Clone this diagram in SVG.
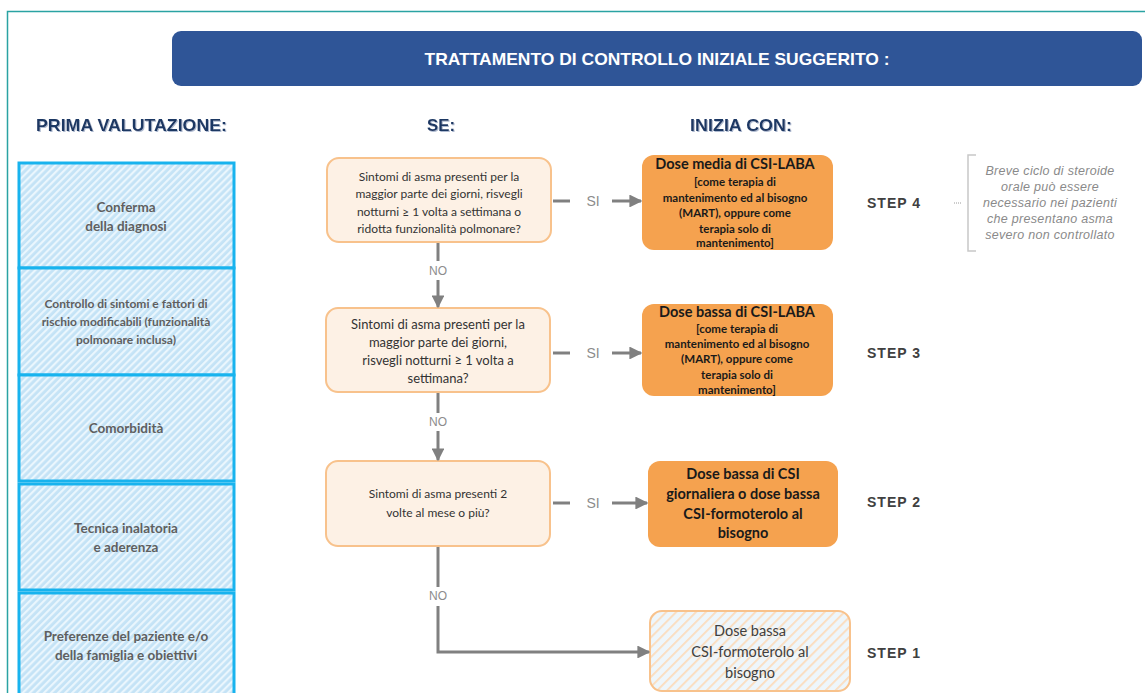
<svg xmlns="http://www.w3.org/2000/svg" width="1145" height="693" viewBox="0 0 1145 693">
<defs>
<pattern id="hatchBlue" width="5" height="5" patternUnits="userSpaceOnUse" patternTransform="rotate(45)">
<rect width="5" height="5" fill="#c4e3f6"/>
<rect width="2.2" height="5" fill="#eaf6fd"/>
</pattern>
<pattern id="hatchOrange" width="7" height="7" patternUnits="userSpaceOnUse" patternTransform="rotate(45)">
<rect width="7" height="7" fill="#eef6fb"/>
<rect width="1.8" height="7" fill="#fbdcbd"/>
</pattern>
<marker id="arr" viewBox="0 0 10 10" refX="9" refY="5" markerWidth="4.3" markerHeight="4.3" orient="auto" markerUnits="strokeWidth">
<path d="M0,0 L10,5 L0,10 z" fill="#808080"/>
</marker>
<filter id="sh" x="-5%" y="-20%" width="110%" height="150%">
<feDropShadow dx="1" dy="1" stdDeviation="0.6" flood-color="#9aa9c4" flood-opacity="0.8"/>
</filter>
</defs>
<style>
.hdr{font-family:"Liberation Sans",Arial,sans-serif;font-weight:bold;fill:#1f3864;font-size:17px}
.lbox{fill:url(#hatchBlue);stroke:#18b3ee;stroke-width:3}
.lt{font-family:Lato,"Liberation Sans",sans-serif;font-weight:bold;fill:#5f5f5f;font-size:13.5px;text-anchor:middle}
.q{fill:#fdf1e5;stroke:#f8c28c;stroke-width:2}
.qt{font-family:Lato,"Liberation Sans",sans-serif;fill:#333333;font-size:12px;text-anchor:middle}
.a{fill:#f5a24f}
.at{font-family:Lato,"Liberation Sans",sans-serif;font-weight:bold;fill:#1a1a1a;font-size:11.5px;text-anchor:middle}
.att{font-family:Lato,"Liberation Sans",sans-serif;font-weight:bold;fill:#1a1a1a;font-size:14.5px;text-anchor:middle}
.a1t{font-family:Lato,"Liberation Sans",sans-serif;fill:#404040;font-size:14.5px;text-anchor:middle}
.ln{fill:none;stroke:#808080;stroke-width:3}
.lbl{font-family:"Liberation Sans",Arial,sans-serif;fill:#8c8c8c;font-size:14px;text-anchor:middle}
.nolbl{font-family:"Liberation Sans",Arial,sans-serif;fill:#8c8c8c;font-size:12px;text-anchor:middle}
.step{font-family:"Liberation Sans",Arial,sans-serif;font-weight:bold;fill:#404040;font-size:14px;letter-spacing:1px}
.note{font-family:"Liberation Sans",Arial,sans-serif;font-style:italic;fill:#8a8a8a;font-size:12.5px;text-anchor:middle;letter-spacing:0.3px}
</style>
<rect width="1145" height="693" fill="#ffffff"/>
<path d="M7.5,693 L7.5,11.5 L1145,11.5" fill="none" stroke="#2aa3a3" stroke-width="1.5"/>

<g id="title">
<rect x="172" y="31" width="970" height="55" rx="9" fill="#2f5597"/>
<text x="657" y="65" font-family="Liberation Sans,Arial,sans-serif" font-weight="bold" font-size="17" fill="#ffffff" text-anchor="middle" textLength="465" lengthAdjust="spacingAndGlyphs">TRATTAMENTO DI CONTROLLO INIZIALE SUGGERITO :</text>
</g>

<g id="headers" filter="url(#sh)">
<text class="hdr" x="36" y="131" textLength="191" lengthAdjust="spacingAndGlyphs">PRIMA VALUTAZIONE:</text>
<text class="hdr" x="427" y="131" textLength="28" lengthAdjust="spacingAndGlyphs">SE:</text>
<text class="hdr" x="690" y="131" textLength="102" lengthAdjust="spacingAndGlyphs">INIZIA CON:</text>
</g>

<g id="val1"><rect class="lbox" x="19" y="163" width="215" height="105"/>
<text class="lt" x="126" y="212">Conferma</text><text class="lt" x="126" y="231">della diagnosi</text></g>
<g id="val2"><rect class="lbox" x="19" y="268" width="215" height="107"/>
<text class="lt" x="126" y="308" font-size="12" style="font-size:12px">Controllo di sintomi e fattori di</text>
<text class="lt" x="126" y="326" style="font-size:12px">rischio modificabili (funzionalità</text>
<text class="lt" x="126" y="344" style="font-size:12px">polmonare inclusa)</text></g>
<g id="val3"><rect class="lbox" x="19" y="375" width="215" height="106"/>
<text class="lt" x="126" y="433">Comorbidità</text></g>
<g id="val4"><rect class="lbox" x="19" y="484" width="215" height="106"/>
<text class="lt" x="126" y="533">Tecnica inalatoria</text><text class="lt" x="126" y="552">e aderenza</text></g>
<g id="val5"><rect class="lbox" x="19" y="593" width="215" height="110"/>
<text class="lt" x="126" y="641">Preferenze del paziente e/o</text><text class="lt" x="126" y="660">della famiglia e obiettivi</text></g>

<g id="q1"><rect class="q" x="327" y="158" width="224" height="84" rx="12"/>
<text class="qt" x="439" y="181">Sintomi di asma presenti per la</text>
<text class="qt" x="439" y="198">maggior parte dei giorni,  risvegli</text>
<text class="qt" x="439" y="216">notturni ≥ 1 volta a settimana o</text>
<text class="qt" x="439" y="233">ridotta funzionalità  polmonare?</text></g>

<g id="q2"><rect class="q" x="326" y="308" width="224" height="84" rx="12"/>
<text class="qt" x="438" y="329" style="font-size:13px">Sintomi di asma presenti per la</text>
<text class="qt" x="438" y="347" style="font-size:13px">maggior parte dei giorni,</text>
<text class="qt" x="438" y="365" style="font-size:13px">risvegli notturni ≥ 1 volta a</text>
<text class="qt" x="438" y="383" style="font-size:13px">settimana?</text></g>

<g id="q3"><rect class="q" x="326" y="461" width="224" height="85" rx="12"/>
<text class="qt" x="438" y="498">Sintomi di asma presenti 2</text>
<text class="qt" x="438" y="517">volte al mese o più?</text></g>

<g id="a4"><rect class="a" x="642" y="155" width="191" height="95" rx="12"/>
<text class="att" x="735" y="169">Dose media di CSI-LABA</text>
<text class="at" x="735" y="186">[come terapia di</text>
<text class="at" x="735" y="202">mantenimento ed al bisogno</text>
<text class="at" x="735" y="217">(MART), oppure come</text>
<text class="at" x="735" y="233">terapia solo di</text>
<text class="at" x="735" y="247">mantenimento]</text></g>

<g id="a3"><rect class="a" x="642" y="304" width="191" height="92" rx="12"/>
<text class="att" x="737" y="317">Dose bassa di CSI-LABA</text>
<text class="at" x="737" y="333">[come terapia di</text>
<text class="at" x="737" y="348">mantenimento ed al bisogno</text>
<text class="at" x="737" y="363">(MART), oppure come</text>
<text class="at" x="737" y="379">terapia solo di</text>
<text class="at" x="737" y="394">mantenimento]</text></g>

<g id="a2"><rect class="a" x="648" y="461" width="190" height="86" rx="12"/>
<text class="att" x="743" y="479">Dose bassa di CSI</text>
<text class="att" x="743" y="499">giornaliera o dose bassa</text>
<text class="att" x="743" y="519">CSI-formoterolo al</text>
<text class="att" x="743" y="538">bisogno</text></g>

<g id="a1"><rect x="650" y="611" width="200" height="80" rx="12" fill="url(#hatchOrange)" stroke="#f8c28c" stroke-width="2"/>
<text class="a1t" x="750" y="636">Dose bassa</text>
<text class="a1t" x="750" y="657">CSI-formoterolo al</text>
<text class="a1t" x="750" y="678">bisogno</text></g>

<g id="steps">
<text class="step" x="867" y="208">STEP 4</text>
<text class="step" x="867" y="358">STEP 3</text>
<text class="step" x="867" y="507">STEP 2</text>
<text class="step" x="867" y="658">STEP 1</text>
</g>

<g id="note">
<line x1="954" y1="203" x2="962" y2="203" stroke="#9a9a9a" stroke-width="1" stroke-dasharray="1,1"/>
<path d="M976,155 L968,155 L968,251 L976,251" fill="none" stroke="#c8c8c8" stroke-width="1.5"/>
<text class="note" x="1050" y="175">Breve ciclo di steroide</text>
<text class="note" x="1050" y="191">orale può essere</text>
<text class="note" x="1050" y="207">necessario nei pazienti</text>
<text class="note" x="1050" y="223">che presentano asma</text>
<text class="note" x="1050" y="239">severo non controllato</text>
</g>

<g id="connectors">
<line class="ln" x1="553" y1="201" x2="570" y2="201"/>
<text class="lbl" x="593" y="206">SI</text>
<line class="ln" x1="612" y1="201" x2="641" y2="201" marker-end="url(#arr)"/>
<line class="ln" x1="553" y1="353" x2="570" y2="353"/>
<text class="lbl" x="593" y="358">SI</text>
<line class="ln" x1="612" y1="353" x2="641" y2="353" marker-end="url(#arr)"/>
<line class="ln" x1="553" y1="503" x2="570" y2="503"/>
<text class="lbl" x="593" y="508">SI</text>
<line class="ln" x1="612" y1="503" x2="647" y2="503" marker-end="url(#arr)"/>

<line class="ln" x1="438" y1="243" x2="438" y2="261"/>
<text class="nolbl" x="438" y="275">NO</text>
<line class="ln" x1="438" y1="280" x2="438" y2="307" marker-end="url(#arr)"/>
<line class="ln" x1="438" y1="393" x2="438" y2="413"/>
<text class="nolbl" x="438" y="426">NO</text>
<line class="ln" x1="438" y1="431" x2="438" y2="460" marker-end="url(#arr)"/>
<line class="ln" x1="438" y1="547" x2="438" y2="587"/>
<text class="nolbl" x="438" y="600">NO</text>
<polyline class="ln" points="438,606 438,652 649,652" marker-end="url(#arr)"/>
</g>
</svg>
